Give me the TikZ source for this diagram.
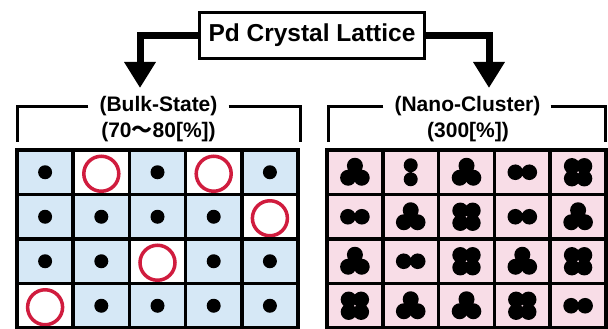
\documentclass[tikz,border=0pt]{standalone}
\usepackage{fontspec}
\setmainfont{Liberation Sans}
\newfontfamily\cjkfont{Noto Sans CJK JP}
\usetikzlibrary{arrows.meta}

\definecolor{bulkblue}{RGB}{214,232,246}
\definecolor{nanopink}{RGB}{248,221,231}
\definecolor{vacred}{RGB}{208,28,62}

\tikzset{
  titlebox/.style={draw,line width=3pt,minimum width=225pt,minimum height=46pt,
    inner sep=0pt,font=\fontsize{24.5}{28}\selectfont\bfseries},
  headtext/.style={inner sep=0pt,font=\fontsize{21}{26}\selectfont\bfseries},
  bigarrow/.style={line width=7pt,-{Triangle[width=30pt,length=26pt]}},
  bracket/.style={line width=3pt},
  cellbox/.style={draw,line width=3.5pt},
  pics/atom/.style={code={\fill (0,0) circle[radius=7];}},
  pics/vacancy/.style={code={
    \fill[white] (-28.1,-22.25) rectangle (28.1,22.25);
    \draw[vacred,line width=3.5pt] (0,1.5) circle[radius=17.5];}},
  pics/pairh/.style={code={\fill (-7,0) circle[radius=7.8] (7,0) circle[radius=7.8];}},
  pics/pairv/.style={code={\fill (0,-7) circle[radius=7] (0,7) circle[radius=7];}},
  pics/trio/.style={code={\fill (0,-6.5) circle[radius=8] (-6.8,5.5) circle[radius=8]
    (6.8,5.5) circle[radius=8];}},
  pics/quad/.style={code={\fill (-6.2,-6.2) circle[radius=8] (6.2,-6.2) circle[radius=8]
    (-6.2,6.2) circle[radius=8] (6.2,6.2) circle[radius=8];}}
}

\begin{document}
\begin{tikzpicture}[x=1pt,y=-1pt]
\useasboundingbox (0,0) rectangle (608,329);

% source box and the two branches
\node[titlebox] (lattice) at (312,35.5) {Pd Crystal Lattice};
\coordinate (bulktip) at (140,88);
\coordinate (nanotip) at (489,88);
\draw[bigarrow] (lattice.west) -| (bulktip);
\draw[bigarrow] (lattice.east) -| (nanotip);

% headings with brackets
\node[headtext] (bulkname) at (158.5,106) {(Bulk-State)};
\node[headtext] (bulkrate) at (158.5,132) {(70{\cjkfont ～}80[\%])};
\node[headtext] (nanoname) at (467.5,106) {(Nano-Cluster)};
\node[headtext] (nanorate) at (468,132) {(300[\%])};
\draw[bracket] ([xshift=-11pt]bulkname.west) -| (17,142);
\draw[bracket] ([xshift=11pt]bulkname.east) -| (300,142);
\draw[bracket] ([xshift=-11pt]nanoname.west) -| (328,142);
\draw[bracket] ([xshift=10pt]nanoname.east) -| (605,142);

% bulk lattice
\fill[bulkblue] (17,150) rectangle (298,328);
\foreach \sites [count=\row from 0] in {{atom,vacancy,atom,vacancy,atom},
    {atom,atom,atom,atom,vacancy},{atom,atom,vacancy,atom,atom},
    {vacancy,atom,atom,atom,atom}}
  \foreach \site [count=\col from 0] in \sites
    \pic at ({17+56.2*(\col+.5)},{150+44.5*(\row+.5)}) {\site};
\foreach \row in {0,...,3}
  \foreach \col in {0,...,4}
    \draw[cellbox] ({17+56.2*\col},{150+44.5*\row}) rectangle ++(56.2,44.5);

% nano lattice
\fill[nanopink] (327,150) rectangle (606,328);
\foreach \sites [count=\row from 0] in {{trio,pairv,trio,pairh,quad},
    {pairh,trio,quad,pairh,trio},{trio,pairh,quad,trio,quad},
    {quad,trio,trio,quad,pairh}}
  \foreach \site [count=\col from 0] in \sites
    \pic at ({327+55.8*(\col+.5)},{150+44.5*(\row+.5)}) {\site};
\foreach \row in {0,...,3}
  \foreach \col in {0,...,4}
    \draw[cellbox] ({327+55.8*\col},{150+44.5*\row}) rectangle ++(55.8,44.5);
\end{tikzpicture}
\end{document}
